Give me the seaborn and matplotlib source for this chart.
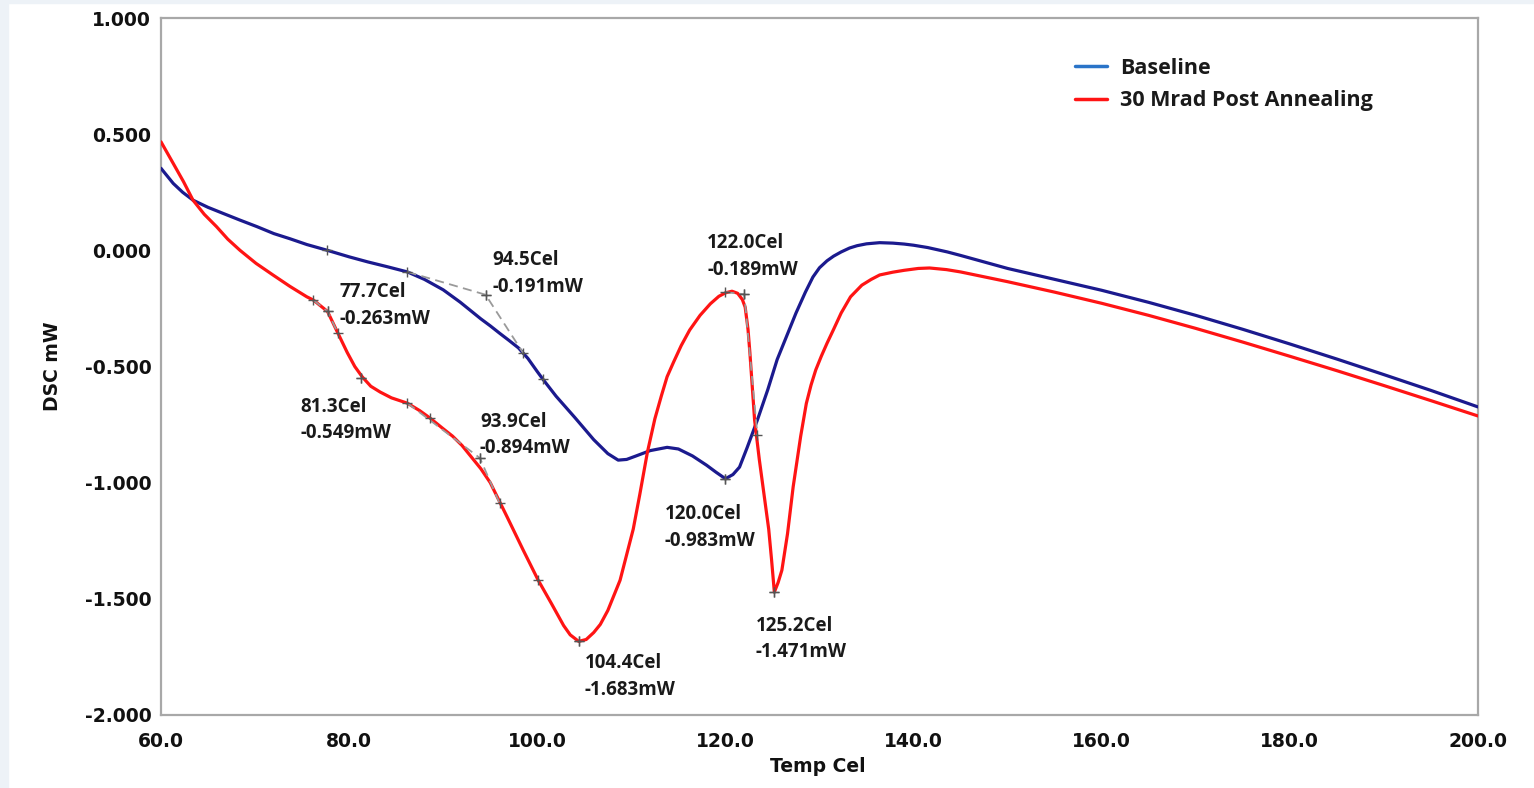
import matplotlib
matplotlib.use("Agg")
import matplotlib.pyplot as plt
from matplotlib.lines import Line2D
from matplotlib.patches import Rectangle
from matplotlib.ticker import FormatStrFormatter
import pandas as pd
import seaborn as sns

# DSC heat-flow traces (temperature in Cel, heat flow in mW)
baseline_temp = [60.0, 61.3, 62.3, 63.4, 65.0, 66.6, 68.4, 70.2, 72.0, 73.7, 75.5,
                 77.6, 80.0, 82.0, 84.0, 86.2, 88.0, 90.0, 91.8, 94.0, 95.0, 96.0,
                 97.0, 98.0, 99.0, 100.0, 100.6, 102.0, 104.0, 106.0, 107.5, 108.6,
                 109.5, 110.5, 112.0, 113.8, 115.0, 116.5, 118.0, 119.0, 120.0, 120.8,
                 121.5, 122.3, 123.4, 124.5, 125.5, 126.5, 127.5, 128.5, 129.3, 130.0,
                 130.8, 131.5, 132.3, 133.2, 134.0, 135.0, 136.4, 137.8, 139.0, 140.0,
                 141.5, 143.6, 145.0, 150.0, 155.0, 160.0, 165.0, 170.0, 175.0, 180.0,
                 185.0, 190.0, 195.0, 200.0]
baseline_dsc = [0.353, 0.288, 0.250, 0.216, 0.185, 0.159, 0.130, 0.102, 0.072, 0.050, 0.025,
                0.001, -0.028, -0.050, -0.070, -0.093, -0.125, -0.170, -0.223, -0.295, -0.325, -0.357,
                -0.388, -0.420, -0.465, -0.522, -0.555, -0.628, -0.720, -0.815, -0.875, -0.903,
                -0.900, -0.885, -0.862, -0.848, -0.855, -0.885, -0.925, -0.955, -0.983, -0.965,
                -0.933, -0.850, -0.730, -0.600, -0.470, -0.370, -0.270, -0.180, -0.115, -0.075,
                -0.045, -0.025, -0.007, 0.010, 0.020, 0.028, 0.033, 0.031, 0.027, 0.022,
                0.012, -0.007, -0.022, -0.078, -0.125, -0.172, -0.224, -0.280, -0.340, -0.403,
                -0.468, -0.535, -0.603, -0.674]

annealed_temp = [60.0, 61.3, 62.4, 63.4, 64.6, 65.9, 67.1, 68.4, 70.1, 71.9, 73.7,
                 75.5, 76.2, 77.7, 78.8, 79.8, 80.6, 81.4, 82.3, 83.3, 84.5, 86.2,
                 87.5, 88.6, 90.0, 91.0, 92.0, 93.0, 94.0, 95.0, 96.8, 98.5, 100.1,
                 101.5, 102.8, 103.5, 104.4, 105.2, 106.0, 106.7, 107.5, 108.2, 108.8,
                 109.5, 110.2, 110.9, 111.7, 112.5, 113.2, 113.8, 114.5, 115.3, 116.2,
                 117.3, 118.4, 119.3, 120.0, 120.7, 121.3, 121.8, 122.1, 122.4, 122.6,
                 123.1, 123.6, 124.0, 124.6, 124.9, 125.2, 125.6, 126.0, 126.6, 127.2,
                 128.0, 128.6, 129.1, 129.6, 130.2, 130.8, 131.5, 132.3, 133.3, 134.5,
                 135.5, 136.4, 137.8, 139.0, 140.5, 141.7, 143.5, 145.0, 150.0, 155.0,
                 160.0, 165.0, 170.0, 175.0, 180.0, 185.0, 190.0, 195.0, 200.0]
annealed_dsc = [0.467, 0.374, 0.295, 0.216, 0.155, 0.102, 0.048, 0.000, -0.056, -0.106, -0.155,
                -0.200, -0.214, -0.263, -0.356, -0.440, -0.500, -0.545, -0.585, -0.610, -0.635, -0.658,
                -0.690, -0.722, -0.768, -0.800, -0.840, -0.890, -0.940, -1.000, -1.148, -1.290, -1.420,
                -1.520, -1.615, -1.655, -1.683, -1.675, -1.645, -1.610, -1.550, -1.480, -1.420,
                -1.310, -1.200, -1.050, -0.870, -0.725, -0.625, -0.544, -0.480, -0.410, -0.343,
                -0.280, -0.230, -0.198, -0.183, -0.176, -0.185, -0.212, -0.245, -0.340, -0.440,
                -0.730, -0.900, -1.020, -1.200, -1.330, -1.471, -1.430, -1.377, -1.220, -1.018,
                -0.800, -0.659, -0.580, -0.515, -0.455, -0.400, -0.340, -0.270, -0.200, -0.150,
                -0.125, -0.106, -0.094, -0.086, -0.078, -0.076, -0.083, -0.093, -0.135, -0.180,
                -0.228, -0.280, -0.336, -0.395, -0.456, -0.518, -0.582, -0.647, -0.713]

series_names = ["Baseline", "30 Mrad Post Annealing"]

# characteristic temperatures reported by the analysis
point_temp = [77.7, 94.5, 81.3, 93.9, 122.0, 120.0, 104.4, 125.2]
point_dsc = [-0.263, -0.191, -0.549, -0.894, -0.189, -0.983, -1.683, -1.471]

# tangent constructions used for the onset points
tangent_lines = [
    ([86.2, 94.5, 98.5], [-0.093, -0.191, -0.442]),
    ([76.2, 77.7, 78.8], [-0.214, -0.263, -0.356]),
    ([86.2, 93.9, 96.0], [-0.658, -0.894, -1.089]),
    ([120.0, 122.0, 123.4], [-0.180, -0.189, -0.795]),
]
# extra evaluation marks along the traces
tick_temp = [77.6, 100.6, 81.3, 88.6, 100.1, 104.4, 120.0, 125.2]
tick_dsc = [0.001, -0.555, -0.549, -0.722, -1.420, -1.683, -0.983, -1.471]

x_ticks = [60, 80, 100, 120, 140, 160, 180, 200]
y_ticks = [-2.0, -1.5, -1.0, -0.5, 0.0, 0.5, 1.0]

# label placement for each characteristic point (pixel offsets)
label_offsets = [(12, 6), (7, 21), (-61, -42), (0, 23), (-37, 38), (-61, -49), (6, -35), (-19, -47)]

sns.set_theme(style="white")
plt.rcParams["axes.unicode_minus"] = False
plt.rcParams["font.family"] = ["DejaVu Sans"]

fig = plt.figure(figsize=(15.34, 7.88), dpi=100, facecolor="white")
fig.patches.append(Rectangle((0, 0), 8 / 1534, 1, transform=fig.transFigure,
                             color="#edf2f7", zorder=0))
fig.patches.append(Rectangle((0, 1 - 3 / 788), 1, 3 / 788, transform=fig.transFigure,
                             color="#edf2f7", zorder=0))
ax = fig.add_axes([161 / 1534, 1 - 715 / 788, 1317 / 1534, 697 / 788])

df = pd.concat([
    pd.DataFrame({"Temp": baseline_temp, "DSC": baseline_dsc, "series": series_names[0]}),
    pd.DataFrame({"Temp": annealed_temp, "DSC": annealed_dsc, "series": series_names[1]}),
])
line_colors = {series_names[0]: "#1b1a8e", series_names[1]: "#ff1414"}
sns.lineplot(data=df, x="Temp", y="DSC", hue="series", palette=line_colors,
             estimator=None, sort=False, linewidth=2.3, legend=False, ax=ax, zorder=3)

for tx, ty in tangent_lines:
    ax.plot(tx, ty, linestyle=(0, (5, 3)), color="#9a9a9a", linewidth=1.3, zorder=4,
            marker="+", markersize=7, markeredgecolor="#555555", markeredgewidth=1)
ax.plot(tick_temp, tick_dsc, linestyle="none", marker="+", markersize=7,
        markeredgecolor="#555555", markeredgewidth=1, zorder=5)
ax.plot(point_temp, point_dsc, linestyle="none", marker="+", markersize=7,
        markeredgecolor="#555555", markeredgewidth=1, zorder=5)

for t, v, (dx, dy) in zip(point_temp, point_dsc, label_offsets):
    ax.annotate(f"{t:.1f}Cel\n{v:.3f}mW", xy=(t, v), xytext=(dx, dy),
                textcoords="offset pixels", ha="left", va="center",
                fontsize=13.5, fontweight="bold", family=["Open Sans", "DejaVu Sans"],
                color="#1a1a1a", linespacing=1.45, zorder=6)

ax.set_xlim(60, 200)
ax.set_ylim(-2.0, 1.0)
ax.set_xticks(x_ticks)
ax.set_yticks(y_ticks)
ax.xaxis.set_major_formatter(FormatStrFormatter("%.1f"))
ax.yaxis.set_major_formatter(FormatStrFormatter("%.3f"))
ax.tick_params(axis="both", direction="in", length=6, width=1, color="#9c9c9c",
               labelsize=13.5, labelcolor="#111111")
ax.tick_params(axis="x", pad=12)
ax.tick_params(axis="y", pad=7)
for lab in ax.get_xticklabels() + ax.get_yticklabels():
    lab.set_fontweight("bold")
for sp in ax.spines.values():
    sp.set_color("#a8a8a8")
    sp.set_linewidth(1.6)

ax.set_xlabel("Temp Cel", fontsize=13.5, fontweight="bold", color="#111111")
ax.set_ylabel("DSC mW", fontsize=13.5, fontweight="bold", color="#111111")
ax.xaxis.set_label_coords((818 - 161) / 1317, -(767 - 715) / 697)
ax.xaxis.label.set_va("center")
ax.yaxis.set_label_coords((52 - 161) / 1317, 0.5)
ax.yaxis.label.set_va("center")

handles = [Line2D([0], [0], color="#2a74c8", linewidth=2.5),
           Line2D([0], [0], color="#ff1414", linewidth=2.5)]
leg = ax.legend(handles, series_names, loc="upper left",
                bbox_to_anchor=((1075 - 161) / 1317, (715 - 58) / 697),
                frameon=False, borderpad=0, borderaxespad=0, handlelength=1.5,
                handletextpad=0.6, labelspacing=0.52,
                prop={"family": ["Open Sans", "DejaVu Sans"], "weight": "bold", "size": 15.5})
for txt in leg.get_texts():
    txt.set_color("#1a1a1a")

fig.savefig("out.png", dpi=100, facecolor="white")
